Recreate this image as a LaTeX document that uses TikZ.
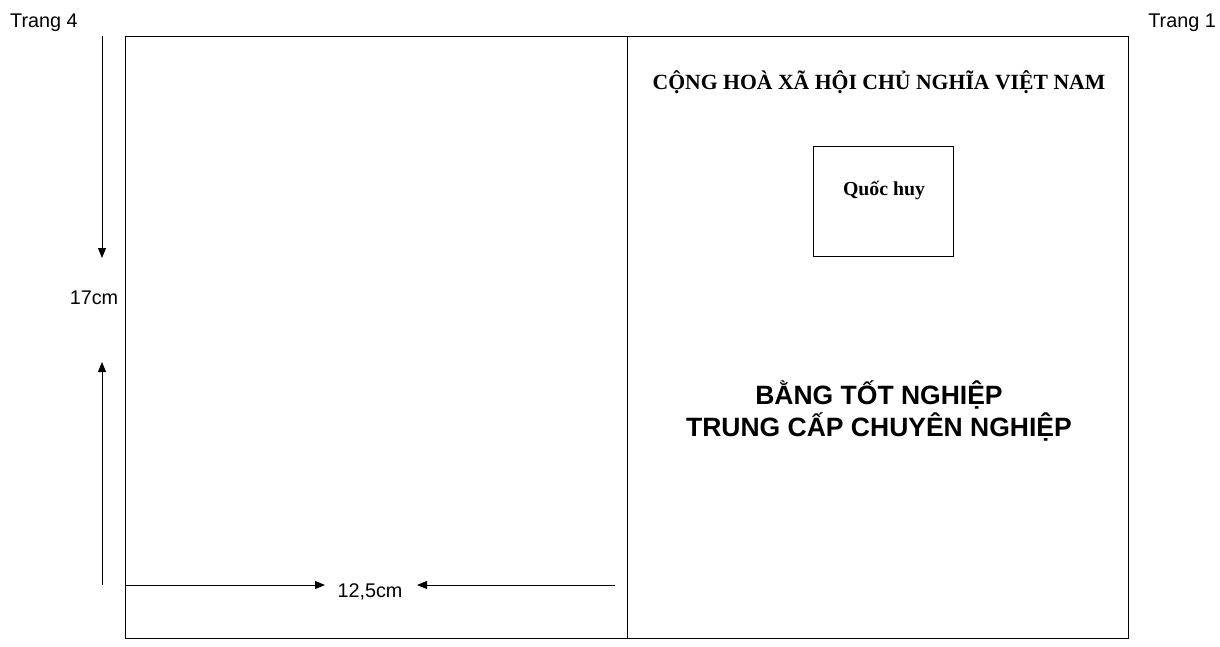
\documentclass[tikz,border=0pt]{standalone}
\usepackage{fontspec}
\setmainfont{Liberation Serif}
\newfontfamily\arialf{Liberation Sans}
\usetikzlibrary{arrows.meta}
\tikzset{
  frame/.style={draw, line width=1pt},
  dimarrow/.style={line width=1pt, -{Triangle[length=10pt,width=8pt]}},
  lbl/.style={font=\arialf\fontsize{19.8}{23}\selectfont, inner sep=0pt},
  serifb/.style={font=\bfseries\fontsize{21.7}{25}\selectfont, inner sep=0pt},
  bigt/.style={font=\arialf\bfseries\fontsize{26.5}{31.5}\selectfont, inner sep=0pt, align=center}
}
\begin{document}
\begin{tikzpicture}[x=1pt,y=-1pt]
\useasboundingbox (0,0) rectangle (1220,647);
\node[frame, minimum width=502pt, minimum height=602pt, anchor=north west, inner sep=0pt] (p4) at (125,36) {};
\node[frame, minimum width=501pt, minimum height=602pt, anchor=north west, inner sep=0pt] (p1) at (627,36) {};
\node[lbl, anchor=base west] (t4) at (10,28) {Trang 4};
\node[lbl, anchor=base east] (t1) at (1216,28) {Trang 1};
\node[serifb, anchor=base] (title) at (879,90) {CỘNG HOÀ XÃ HỘI CHỦ NGHĨA VIỆT NAM};
\node[frame, minimum width=140pt, minimum height=109pt, inner sep=0pt] (qh) at (883,201.5) {};
\node[font=\bfseries\fontsize{19.8}{23}\selectfont, inner sep=0pt, anchor=base] (qht) at (884,195.5) {Quốc huy};
\node[bigt, anchor=base] (b1) at (879,404) {BẰNG TỐT NGHIỆP};
\node[bigt, anchor=base] (b2) at (879,436) {TRUNG CẤP CHUYÊN NGHIỆP};
\node[lbl, anchor=base] (h) at (94,304.5) {17cm};
\node[lbl, anchor=base] (w) at (370,597.5) {12,5cm};
\coordinate (vtop) at (102,36);
\coordinate (vtip1) at (102,258);
\coordinate (vbot) at (102,585);
\coordinate (vtip2) at (102,362);
\coordinate (hl) at (125,585);
\coordinate (htip1) at (325,585);
\coordinate (hr) at (615,585);
\coordinate (htip2) at (417,585);
\draw[dimarrow] (vtop) -- (vtip1);
\draw[dimarrow] (vbot) -- (vtip2);
\draw[dimarrow] (hl) -- (htip1);
\draw[dimarrow] (hr) -- (htip2);
\end{tikzpicture}
\end{document}
